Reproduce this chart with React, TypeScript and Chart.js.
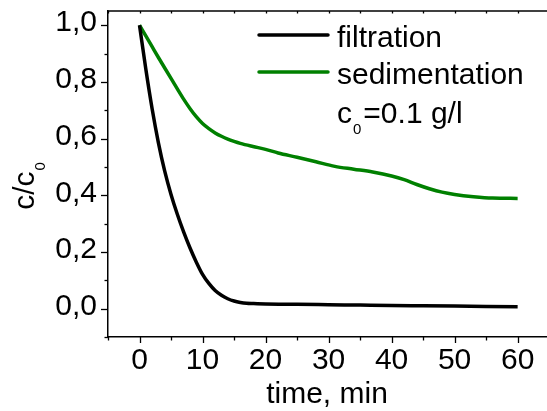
import { useEffect, useRef } from 'react';
import { Chart, registerables } from 'chart.js';

Chart.register(...registerables);

const FONT = '"Liberation Sans", Arial, Helvetica, sans-serif';

// Data
const filtrationTime = [0, 1, 2, 3, 4, 5, 6, 7, 8, 9, 10, 11, 12, 13, 14, 15, 16, 17, 18, 20, 25, 30, 35, 40, 45, 50, 55, 60];
const filtrationValue = [1.0, 0.845, 0.705, 0.585, 0.485, 0.403, 0.333, 0.271, 0.215, 0.165, 0.121, 0.089, 0.064, 0.047, 0.035, 0.027, 0.022, 0.019, 0.018, 0.0165, 0.0155, 0.014, 0.0125, 0.011, 0.01, 0.009, 0.008, 0.007];

const sedimentationTime = [0, 1, 2, 3, 4, 5, 6, 7, 8, 9, 10, 11, 12, 13, 14, 15, 16, 18, 20, 22, 25, 28, 31, 34, 37, 40, 42, 44, 46, 48, 50, 53, 56, 60];
const sedimentationValue = [1.0, 0.962, 0.924, 0.886, 0.849, 0.812, 0.775, 0.739, 0.706, 0.677, 0.653, 0.635, 0.62, 0.608, 0.598, 0.59, 0.583, 0.572, 0.562, 0.549, 0.534, 0.518, 0.502, 0.492, 0.482, 0.468, 0.455, 0.438, 0.423, 0.411, 0.403, 0.395, 0.39, 0.389];

const xTickValues = [0, 10, 20, 30, 40, 50, 60];
const xMinorTickValues = [-5, 5, 15, 25, 35, 45, 55];
const yTickValues = [0, 0.2, 0.4, 0.6, 0.8, 1.0];
const yMinorTickValues = [-0.1, 0.1, 0.3, 0.5, 0.7, 0.9];

const seriesLabels = ['filtration', 'sedimentation'];
const seriesColors = ['#000000', '#008000'];
const noteMain = 'c';
const noteSub = '0';
const noteRest = '=0.1 g/l';
const xTitle = 'time, min';
const yTitleMain = 'c/c';
const yTitleSub = '0';

const framePlugin = {
  id: 'framePlugin',
  afterDraw(chart: any) {
    const { ctx, chartArea, scales } = chart;
    const x = scales.x;
    const y = scales.y;
    ctx.save();
    ctx.strokeStyle = '#000';
    ctx.lineWidth = 1.5;
    const tick = (px: number, py: number, qx: number, qy: number) => {
      ctx.beginPath();
      ctx.moveTo(px, py);
      ctx.lineTo(qx, qy);
      ctx.stroke();
    };
    // top frame line
    tick(chartArea.left, chartArea.top, chartArea.right + 1, chartArea.top);
    ctx.lineWidth = 1.3;
    xTickValues.forEach((v) => {
      const px = Math.round(x.getPixelForValue(v)) + 0.5;
      tick(px, chartArea.bottom, px, chartArea.bottom + 6);
      tick(px, chartArea.top, px, chartArea.top + 2.5);
    });
    xMinorTickValues.forEach((v) => {
      const px = Math.round(x.getPixelForValue(v)) + 0.5;
      tick(px, chartArea.bottom, px, chartArea.bottom + 3.5);
      tick(px, chartArea.top, px, chartArea.top + 2.5);
    });
    yTickValues.forEach((v) => {
      const py = Math.round(y.getPixelForValue(v)) + 0.5;
      tick(chartArea.left, py, chartArea.left - 7, py);
    });
    yMinorTickValues.forEach((v) => {
      const py = Math.round(y.getPixelForValue(v)) + 0.5;
      tick(chartArea.left, py, chartArea.left - 3.5, py);
    });

    // legend
    ctx.lineCap = 'round';
    ctx.lineWidth = 3.5;
    ctx.fillStyle = '#000';
    ctx.textBaseline = 'alphabetic';
    ctx.textAlign = 'left';
    ctx.font = `30px ${FONT}`;
    const legendY = [35, 72];
    const textY = [47, 84];
    seriesLabels.forEach((label, i) => {
      ctx.strokeStyle = seriesColors[i];
      tick(259, legendY[i], 328, legendY[i]);
      ctx.fillText(label, 337, textY[i]);
    });
    // note c0=0.1 g/l
    ctx.font = `30px ${FONT}`;
    ctx.fillText(noteMain, 337, 123);
    const w1 = ctx.measureText(noteMain).width;
    ctx.font = `15px ${FONT}`;
    ctx.fillText(noteSub, 337 + w1 + 1, 134);
    const w2 = ctx.measureText(noteSub).width;
    ctx.font = `30px ${FONT}`;
    ctx.fillText(noteRest, 337 + w1 + w2 + 3, 123);

    // y title
    const cy = 186;
    ctx.translate(33.5, cy);
    ctx.rotate(-Math.PI / 2);
    ctx.font = `30px ${FONT}`;
    const m1 = ctx.measureText(yTitleMain).width;
    ctx.font = `15px ${FONT}`;
    const m2 = ctx.measureText(yTitleSub).width;
    const total = m1 + m2 + 1;
    ctx.font = `30px ${FONT}`;
    ctx.fillText(yTitleMain, -total / 2, 0);
    ctx.font = `15px ${FONT}`;
    ctx.fillText(yTitleSub, -total / 2 + m1 + 1, 11.5);
    ctx.restore();
  },
};

export default function App() {
  const canvasRef = useRef<HTMLCanvasElement | null>(null);

  useEffect(() => {
    document.body.style.margin = '0';
    const canvas = canvasRef.current;
    if (!canvas) return;
    const chart = new Chart(canvas, {
      type: 'line',
      data: {
        datasets: [
          {
            label: seriesLabels[0],
            data: filtrationTime.map((t, i) => ({ x: t, y: filtrationValue[i] })),
            borderColor: seriesColors[0],
            borderWidth: 3.5,
            pointRadius: 0,
            cubicInterpolationMode: 'monotone',
            fill: false,
          },
          {
            label: seriesLabels[1],
            data: sedimentationTime.map((t, i) => ({ x: t, y: sedimentationValue[i] })),
            borderColor: seriesColors[1],
            borderWidth: 3.5,
            pointRadius: 0,
            cubicInterpolationMode: 'monotone',
            fill: false,
          },
        ],
      },
      options: {
        animation: false,
        responsive: false,
        maintainAspectRatio: false,
        layout: { padding: { left: 0, top: 11, right: 1, bottom: 0 } },
        plugins: {
          legend: { display: false },
          tooltip: { enabled: false },
        },
        scales: {
          x: {
            type: 'linear',
            min: -5,
            max: 64.5,
            afterBuildTicks: (scale: any) => {
              scale.ticks = xTickValues.map((v) => ({ value: v }));
            },
            afterFit: (scale: any) => {
              scale.height = 74;
              scale.paddingLeft = 0;
              scale.paddingRight = 0;
            },
            grid: { display: false, drawTicks: false },
            border: { display: true, color: '#000', width: 1.5 },
            ticks: {
              color: '#000',
              font: { family: FONT, size: 30 },
              padding: 6,
              maxRotation: 0,
              autoSkip: false,
              callback: (v: any) => String(v),
            },
            title: {
              display: true,
              text: xTitle,
              color: '#000',
              font: { family: FONT, size: 30, lineHeight: 1 },
              padding: { top: 0, bottom: 1 },
            },
          },
          y: {
            type: 'linear',
            min: -0.1,
            max: 1.05,
            afterBuildTicks: (scale: any) => {
              scale.ticks = yTickValues.map((v) => ({ value: v }));
            },
            afterFit: (scale: any) => {
              scale.width = 108;
              scale.paddingTop = 0;
              scale.paddingBottom = 0;
            },
            grid: { display: false, drawTicks: false },
            border: { display: true, color: '#000', width: 1.5 },
            ticks: {
              color: '#000',
              font: { family: FONT, size: 30 },
              padding: 11,
              labelOffset: -2,
              autoSkip: false,
              callback: (v: any) => Number(v).toFixed(1).replace('.', ','),
            },
          },
        },
      },
      plugins: [framePlugin],
    });
    return () => chart.destroy();
  }, []);

  return (
    <div style={{ width: 547, height: 411, background: '#fff' }}>
      <canvas ref={canvasRef} width={547} height={411} style={{ width: 547, height: 411, display: 'block' }} />
    </div>
  );
}
